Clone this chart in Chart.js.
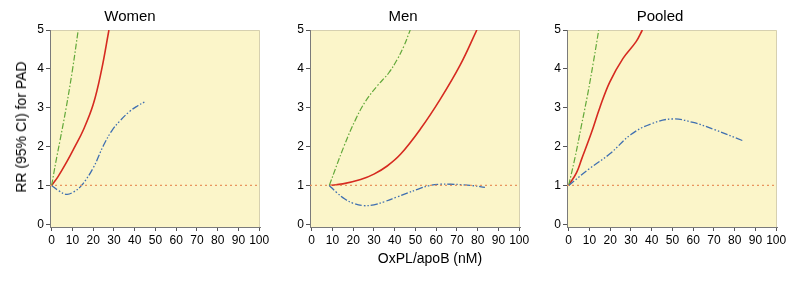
<!DOCTYPE html>
<html>
<head>
<meta charset="utf-8">
<script src="https://cdn.jsdelivr.net/npm/chart.js@4"></script>
<style>
  html, body { margin: 0; padding: 0; background: #fff; overflow: hidden; }
  #wrap { position: relative; width: 800px; height: 285px; font-family: "Liberation Sans", Arial, sans-serif; }
  canvas { position: absolute; top: 0; }
  .lab { position: absolute; font-size: 14px; color: #000; white-space: nowrap; }
</style>
</head>
<body>
<div id="wrap">
  <canvas id="women" width="292" height="249" style="left:0px"></canvas>
  <canvas id="men" width="252" height="249" style="left:286px"></canvas>
  <canvas id="pooled" width="270" height="249" style="left:543px"></canvas>
  <div class="lab" id="ytitle" style="left:20.7px; top:126.5px; transform:translate(-50%,-50%) rotate(-90deg);">RR (95% CI) for PAD</div>
  <div class="lab" style="left:430px; top:258px; transform:translate(-50%,-50%);">OxPL/apoB (nM)</div>
</div>
<script>
// tick labels
const xTicks = [0, 10, 20, 30, 40, 50, 60, 70, 80, 90, 100];
const yTicks = [0, 1, 2, 3, 4, 5];
const refY = 1;

// Women
const womenEstX = [0, 3, 7.2, 11, 15.2, 20, 24, 27.6];
const womenEstY = [1, 1.22, 1.6, 1.98, 2.42, 3.08, 3.96, 5];
const womenHiX = [0, 2, 4, 7, 10.1, 12.8];
const womenHiY = [1, 1.6, 2.15, 3.0, 4.0, 5];
const womenLoX = [0, 3.5, 7.2, 10.5, 14.4, 20, 24.9, 28.9, 32.9, 37.7, 41.5, 44.9];
const womenLoY = [1, 0.86, 0.77, 0.83, 1.0, 1.45, 2.02, 2.4, 2.66, 2.91, 3.05, 3.15];

// Men
const menEstX = [8.5, 15, 23.6, 30, 36.4, 42.8, 52.4, 62, 71.6, 79.6];
const menEstY = [1, 1.04, 1.15, 1.29, 1.5, 1.8, 2.45, 3.22, 4.1, 5];
const menHiX = [8.5, 15.6, 21.2, 26, 31.6, 37.2, 41.2, 44.4, 47.5];
const menHiY = [1, 2.01, 2.7, 3.17, 3.56, 3.9, 4.24, 4.58, 5];
const menLoX = [8.5, 12, 16, 20, 25, 30, 35, 41, 46, 51, 57, 62, 67, 72, 77, 83.5];
const menLoY = [1, 0.82, 0.65, 0.54, 0.48, 0.5, 0.58, 0.7, 0.8, 0.9, 1.0, 1.03, 1.03, 1.02, 1.0, 0.95];

// Pooled
const pooledEstX = [0, 3.8, 6.2, 11, 15, 19.8, 26.2, 32.5, 35.5];
const pooledEstY = [1, 1.33, 1.67, 2.36, 3.0, 3.66, 4.27, 4.7, 5];
const pooledHiX = [0, 3, 6, 9, 12, 14.5];
const pooledHiY = [1, 1.7, 2.5, 3.3, 4.2, 5];
const pooledLoX = [0, 10, 20, 30, 40, 50, 60, 70, 84];
const pooledLoY = [1, 1.43, 1.82, 2.31, 2.59, 2.71, 2.62, 2.44, 2.15];

const X_MIN = -0.8, X_MAX = 100.4;

function pts(xs, ys) {
  return xs.map((x, i) => ({ x: x, y: ys[i] }));
}

const panelBg = {
  id: 'panelBg',
  beforeDraw(chart) {
    const { ctx, chartArea: a } = chart;
    ctx.save();
    ctx.fillStyle = '#fbf5c9';
    ctx.fillRect(a.left, a.top, a.right - a.left, a.bottom - a.top);
    ctx.strokeStyle = '#d6d0b0';
    ctx.lineWidth = 1;
    ctx.beginPath();
    ctx.moveTo(a.left, a.top + 0.5);
    ctx.lineTo(a.right - 0.5, a.top + 0.5);
    ctx.lineTo(a.right - 0.5, a.bottom);
    ctx.stroke();
    ctx.restore();
  }
};

function makeChart(id, title, yWidth, padRight, est, hi, lo) {
  const font = { family: '"Liberation Sans", Arial, sans-serif', size: 12 };
  return new Chart(document.getElementById(id), {
    type: 'line',
    plugins: [panelBg],
    data: {
      datasets: [
        { data: [{ x: X_MIN, y: refY }, { x: X_MAX, y: refY }], borderColor: '#e8955e',
          borderWidth: 1.2, borderDash: [2, 3], pointRadius: 0 },
        { data: lo, borderColor: '#3f6fb0', borderWidth: 1.3,
          borderDash: [7, 2, 1.5, 2, 1.5, 2], pointRadius: 0, tension: 0.4 },
        { data: hi, borderColor: '#62a83a', borderWidth: 1.2,
          borderDash: [6, 2, 1.5, 2], pointRadius: 0, tension: 0.4 },
        { data: est, borderColor: '#d62a20', borderWidth: 1.6,
          pointRadius: 0, tension: 0.4 }
      ]
    },
    options: {
      responsive: false,
      animation: false,
      devicePixelRatio: 1,
      layout: { padding: { left: 0, right: padRight, top: 0, bottom: 0 } },
      scales: {
        x: {
          type: 'linear', min: X_MIN, max: X_MAX,
          afterBuildTicks: s => { s.ticks = xTicks.map(v => ({ value: v })); },
          afterFit: s => { s.height = 22; },
          grid: { drawOnChartArea: false, drawTicks: true, tickLength: 4, color: '#555' },
          border: { color: '#7a7a7a', width: 1 },
          ticks: { font: font, color: '#000', padding: 2, maxRotation: 0, autoSkip: false }
        },
        y: {
          min: -0.07, max: 5,
          afterBuildTicks: s => { s.ticks = yTicks.map(v => ({ value: v })); },
          afterFit: s => { s.width = yWidth; },
          grid: { drawOnChartArea: false, drawTicks: true, tickLength: 4, color: '#555' },
          border: { color: '#7a7a7a', width: 1 },
          ticks: { font: font, color: '#000', padding: 2 }
        }
      },
      plugins: {
        legend: { display: false },
        tooltip: { enabled: false },
        title: {
          display: true, text: title, color: '#000',
          font: { family: '"Liberation Sans", Arial, sans-serif', size: 15, weight: 'normal' },
          padding: { top: 8, bottom: 4 }
        }
      }
    }
  });
}

makeChart('women', 'Women', 50, 32, pts(womenEstX, womenEstY), pts(womenHiX, womenHiY), pts(womenLoX, womenLoY));
makeChart('men', 'Men', 24, 18, pts(menEstX, menEstY), pts(menHiX, menHiY), pts(menLoX, menLoY));
makeChart('pooled', 'Pooled', 24, 36, pts(pooledEstX, pooledEstY), pts(pooledHiX, pooledHiY), pts(pooledLoX, pooledLoY));
</script>
</body>
</html>
